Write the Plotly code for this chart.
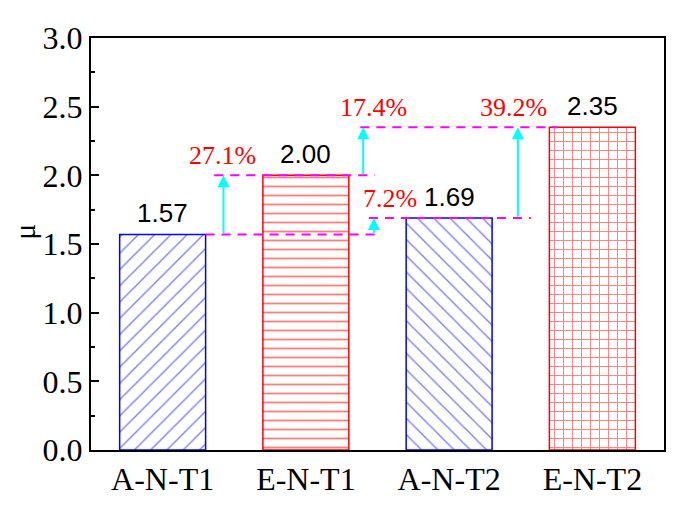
import plotly.graph_objects as go

# data
samples = ['A-N-T1', 'E-N-T1', 'A-N-T2', 'E-N-T2']
mu = [1.57, 2.00, 1.69, 2.35]
value_labels = ['1.57', '2.00', '1.69', '2.35']
increase_labels = ['27.1%', '7.2%', '17.4%', '39.2%']
# (from value index, to value index) for each increase
increase_pairs = [(0, 1), (0, 2), (1, 3), (2, 3)]

edge_colors = ['#0000FF', '#FF0000', '#0000FF', '#FF0000']
patterns = ['/', '-', '\\', '+']
pattern_sizes = [11.5, 9, 11.5, 9]
pattern_solidity = [0.12, 0.2, 0.12, 0.2]

serif = 'Liberation Serif, Times New Roman, serif'
sans = 'Liberation Sans, Arial, sans-serif'

x = list(range(len(samples)))

fig = go.Figure()

fig.add_trace(go.Bar(
    x=x, y=mu, width=0.6,
    marker=dict(color='white',
                line=dict(color=edge_colors, width=1.5),
                pattern=dict(shape=patterns, fgcolor=edge_colors, bgcolor='white',
                             size=pattern_sizes, solidity=pattern_solidity)),
    showlegend=False,
))

# dashed reference lines (y value, x start, x end)
dash_lines = [(mu[0], 0.30, 1.53), (mu[1], 0.36, 1.48), (mu[2], 1.44, 2.57), (mu[3], 1.38, 2.76)]
for yv, x0, x1 in dash_lines:
    fig.add_shape(type='line', x0=x0, x1=x1, y0=yv, y1=yv, xref='x', yref='y', layer='above',
                  line=dict(color='#FF00FF', width=2, dash='9px,7px'))

# cyan arrows and percentage labels
arrow_x = [0.425, 1.475, 1.40, 2.48]
label_x = [0.42, 1.59, 1.475, 2.45]
for (a, b), ax_, lx, txt in zip(increase_pairs, arrow_x, label_x, increase_labels):
    fig.add_annotation(x=ax_, y=mu[b], ax=ax_, ay=mu[a], xref='x', yref='y', axref='x', ayref='y',
                       text='', showarrow=True, arrowhead=2, arrowsize=1.2, arrowwidth=2,
                       arrowcolor='#00FFFF')
    fig.add_annotation(x=lx, y=mu[b], xref='x', yref='y', text=txt, showarrow=False,
                       yanchor='bottom', yshift=3, font=dict(family=serif, size=26, color='#FF0000'))

for i, txt in enumerate(value_labels):
    fig.add_annotation(x=x[i], y=mu[i], xref='x', yref='y', text=txt, showarrow=False,
                       yanchor='bottom', yshift=4, font=dict(family=sans, size=26, color='black'))

# y axis title
fig.add_annotation(x=-0.115, y=0.53, xref='paper', yref='paper', text='μ', textangle=-90,
                   xanchor='center', yanchor='middle', borderpad=0,
                   showarrow=False, font=dict(family=serif, size=30, color='black'))

# page body has an 8px margin, so the figure is shrunk to fit the window
fig.update_layout(
    width=675, height=501,
    margin=dict(l=83, r=19, t=18, b=57),
    plot_bgcolor='white', paper_bgcolor='white',
    bargap=0.4,
)
fig.update_xaxes(
    range=[-0.5, 3.5], tickvals=x, ticktext=samples, ticks='',
    showline=True, linecolor='black', linewidth=2, mirror=True, showgrid=False, zeroline=False,
    tickfont=dict(family=serif, size=32, color='black'),
)
fig.update_yaxes(
    range=[0, 3.0], dtick=0.5, tickformat='.1f', ticks='inside', ticklen=8, tickwidth=2,
    tickcolor='black', showline=True, linecolor='black', linewidth=2, mirror=True,
    showgrid=False, zeroline=False,
    minor=dict(dtick=0.25, ticks='inside', ticklen=4, tickwidth=2, tickcolor='black', showgrid=False),
    tickfont=dict(family=serif, size=32, color='black'),
)

fig.write_html('out.html')
